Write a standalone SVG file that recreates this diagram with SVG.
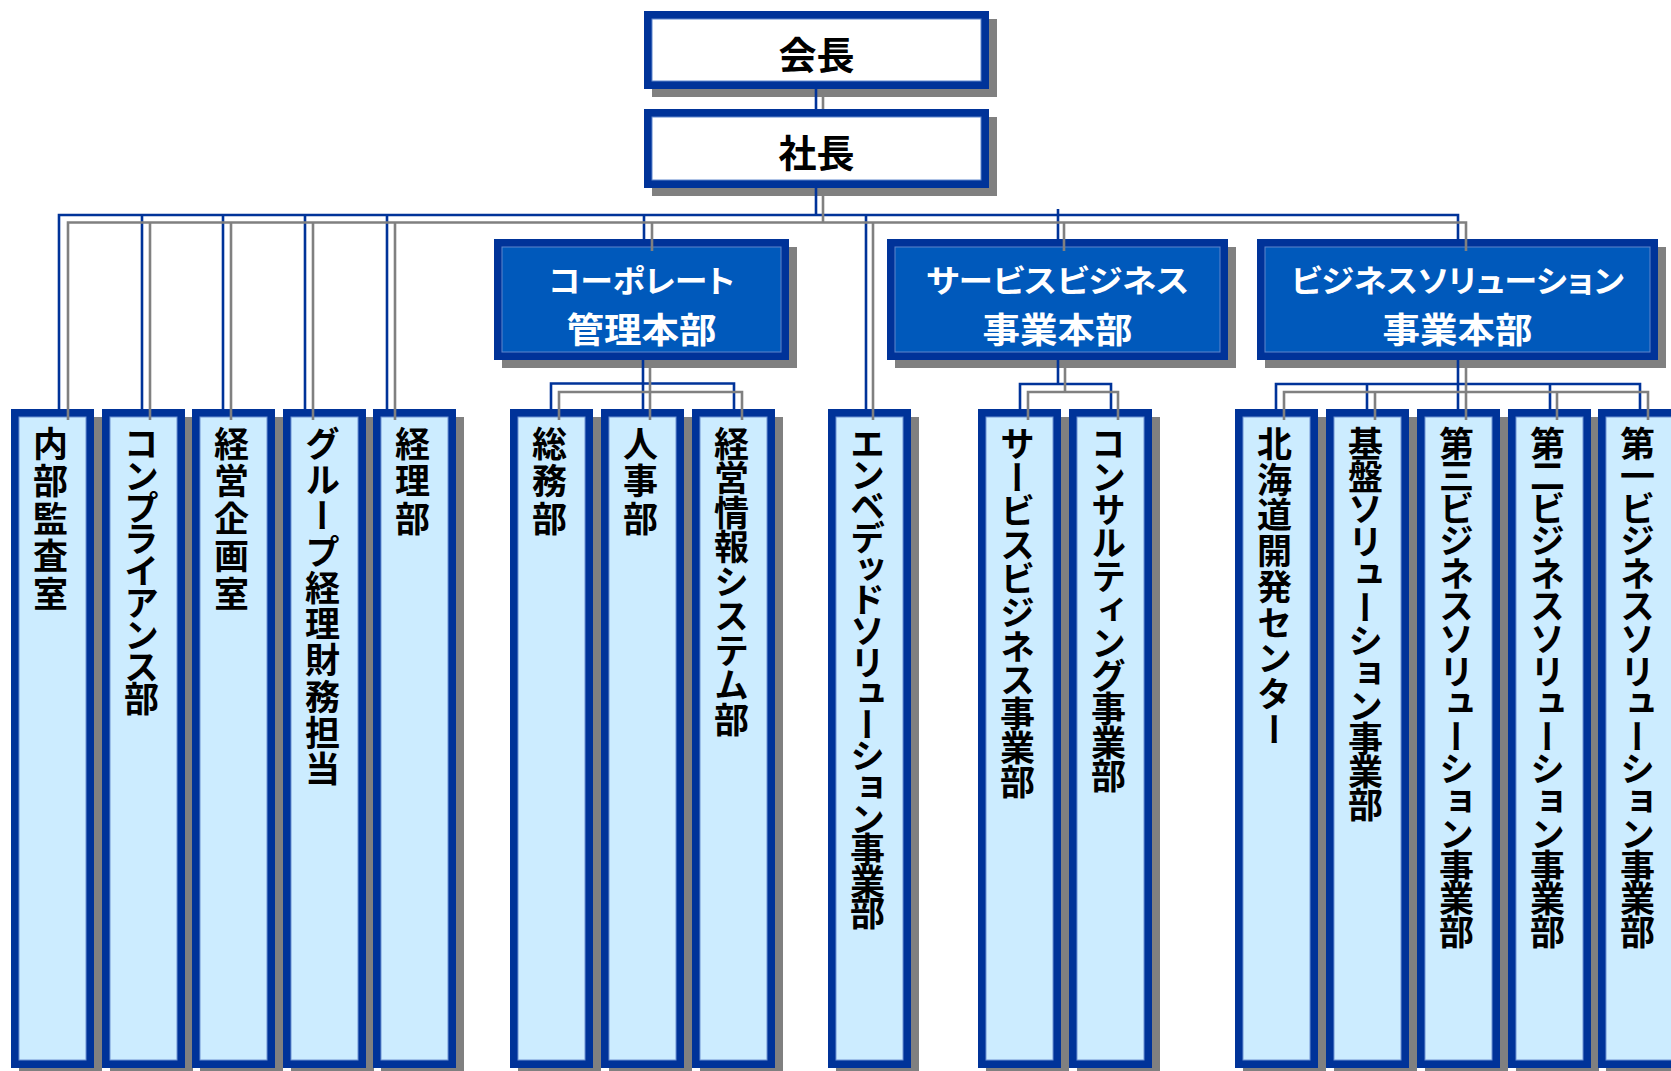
<svg xmlns="http://www.w3.org/2000/svg" width="1671" height="1071" viewBox="0 0 1671 1071">
<style>
.bg{fill:#FFFFFF}
.sh{fill:#808080}
.bd{fill:#003399}
.wt{fill:#FFFFFF;stroke:#5F86CC;stroke-width:1}
.dv{fill:#0059BB;stroke:#5F86CC;stroke-width:1}
.lf{fill:#CCECFF;stroke:#6F93D3;stroke-width:1}
.t{font-family:"Noto Sans CJK JP","Noto Sans CJK SC",sans-serif;font-weight:700}
.tt{font-size:38px;fill:#000000;text-anchor:middle;dominant-baseline:central}
.dt{fill:#FFFFFF;text-anchor:middle;dominant-baseline:central;font-feature-settings:"palt"}
.d1{font-size:31px}
.d2{font-size:35px}
.vt{font-size:35px;fill:#000000;writing-mode:vertical-rl}
.cb{stroke:#003399;stroke-width:2.6;fill:none}
.cg{stroke:#808080;stroke-width:2.6;fill:none}
</style>
<rect class="bg" x="0" y="0" width="1671" height="1071"/>

<g id="nodes">
<g id="kaicho">
<rect class="sh" x="652" y="19" width="345" height="78"/>
<rect class="bd" x="644" y="11" width="345" height="78"/>
<rect class="wt" x="652" y="19" width="329" height="62"/>
<text class="t tt" x="816.5" y="52.5">会長</text>
</g>
<g id="shacho">
<rect class="sh" x="652" y="117" width="345" height="79"/>
<rect class="bd" x="644" y="109" width="345" height="79"/>
<rect class="wt" x="652" y="117" width="329" height="63"/>
<text class="t tt" x="816.5" y="150.5">社長</text>
</g>

<g id="corporate">
<rect class="sh" x="502" y="247" width="295" height="121"/>
<rect class="bd" x="494" y="239" width="295" height="121"/>
<rect class="dv" x="502" y="247" width="279" height="105"/>
<text class="t dt d1" x="641.5" y="278" textLength="186" lengthAdjust="spacingAndGlyphs">コーポレート</text>
<text class="t dt d2" x="641.5" y="327" textLength="150" lengthAdjust="spacingAndGlyphs">管理本部</text>
</g>
<g id="service">
<rect class="sh" x="895" y="247" width="341" height="121"/>
<rect class="bd" x="887" y="239" width="341" height="121"/>
<rect class="dv" x="895" y="247" width="325" height="105"/>
<text class="t dt d1" x="1057.5" y="278" textLength="263" lengthAdjust="spacingAndGlyphs">サービスビジネス</text>
<text class="t dt d2" x="1057.5" y="327" textLength="150" lengthAdjust="spacingAndGlyphs">事業本部</text>
</g>
<g id="bizsol">
<rect class="sh" x="1265" y="247" width="401" height="121"/>
<rect class="bd" x="1257" y="239" width="401" height="121"/>
<rect class="dv" x="1265" y="247" width="385" height="105"/>
<text class="t dt d1" x="1457.5" y="278" textLength="333" lengthAdjust="spacingAndGlyphs">ビジネスソリューション</text>
<text class="t dt d2" x="1457.5" y="327" textLength="150" lengthAdjust="spacingAndGlyphs">事業本部</text>
</g>

<g id="naibu">
<rect class="sh" x="19" y="417" width="83" height="660"/>
<rect class="bd" x="11" y="409" width="83" height="659"/>
<rect class="lf" x="19" y="417" width="67" height="643"/>
<text class="t vt" x="50.5" y="426" textLength="185" lengthAdjust="spacing">内部監査室</text>
</g>
<g id="compliance">
<rect class="sh" x="110" y="417" width="83" height="660"/>
<rect class="bd" x="102" y="409" width="83" height="659"/>
<rect class="lf" x="110" y="417" width="67" height="643"/>
<text class="t vt" x="141.5" y="426" textLength="290" lengthAdjust="spacing">コンプライアンス部</text>
</g>
<g id="keieikikaku">
<rect class="sh" x="200" y="417" width="83" height="660"/>
<rect class="bd" x="192" y="409" width="83" height="659"/>
<rect class="lf" x="200" y="417" width="67" height="643"/>
<text class="t vt" x="231.5" y="426" textLength="185" lengthAdjust="spacing">経営企画室</text>
</g>
<g id="groupkeiri">
<rect class="sh" x="291" y="417" width="83" height="660"/>
<rect class="bd" x="283" y="409" width="83" height="659"/>
<rect class="lf" x="291" y="417" width="67" height="643"/>
<text class="t vt" x="322.5" y="426" textLength="360" lengthAdjust="spacing">グループ経理財務担当</text>
</g>
<g id="keiri">
<rect class="sh" x="381" y="417" width="83" height="660"/>
<rect class="bd" x="373" y="409" width="83" height="659"/>
<rect class="lf" x="381" y="417" width="67" height="643"/>
<text class="t vt" x="412.5" y="426" textLength="110" lengthAdjust="spacing">経理部</text>
</g>
<g id="somu">
<rect class="sh" x="518" y="417" width="83" height="660"/>
<rect class="bd" x="510" y="409" width="83" height="659"/>
<rect class="lf" x="518" y="417" width="67" height="643"/>
<text class="t vt" x="549.5" y="426" textLength="110" lengthAdjust="spacing">総務部</text>
</g>
<g id="jinji">
<rect class="sh" x="609" y="417" width="83" height="660"/>
<rect class="bd" x="601" y="409" width="83" height="659"/>
<rect class="lf" x="609" y="417" width="67" height="643"/>
<text class="t vt" x="640.5" y="426" textLength="110" lengthAdjust="spacing">人事部</text>
</g>
<g id="joho">
<rect class="sh" x="700" y="417" width="83" height="660"/>
<rect class="bd" x="692" y="409" width="83" height="659"/>
<rect class="lf" x="700" y="417" width="67" height="643"/>
<text class="t vt" x="731.5" y="426" textLength="311" lengthAdjust="spacing">経営情報システム部</text>
</g>
<g id="embedded">
<rect class="sh" x="836" y="417" width="83" height="660"/>
<rect class="bd" x="828" y="409" width="83" height="659"/>
<rect class="lf" x="836" y="417" width="67" height="643"/>
<text class="t vt" x="867.5" y="426" textLength="504" lengthAdjust="spacing">エンベデッドソリューション事業部</text>
</g>
<g id="servicebiz">
<rect class="sh" x="986" y="417" width="83" height="660"/>
<rect class="bd" x="978" y="409" width="83" height="659"/>
<rect class="lf" x="986" y="417" width="67" height="643"/>
<text class="t vt" x="1017.5" y="426" textLength="373" lengthAdjust="spacing">サービスビジネス事業部</text>
</g>
<g id="consulting">
<rect class="sh" x="1077" y="417" width="83" height="660"/>
<rect class="bd" x="1069" y="409" width="83" height="659"/>
<rect class="lf" x="1077" y="417" width="67" height="643"/>
<text class="t vt" x="1108.5" y="426" textLength="367" lengthAdjust="spacing">コンサルティング事業部</text>
</g>
<g id="hokkaido">
<rect class="sh" x="1243" y="417" width="83" height="660"/>
<rect class="bd" x="1235" y="409" width="83" height="659"/>
<rect class="lf" x="1243" y="417" width="67" height="643"/>
<text class="t vt" x="1274.5" y="426" textLength="321" lengthAdjust="spacing">北海道開発センター</text>
</g>
<g id="kiban">
<rect class="sh" x="1334" y="417" width="83" height="660"/>
<rect class="bd" x="1326" y="409" width="83" height="659"/>
<rect class="lf" x="1334" y="417" width="67" height="643"/>
<text class="t vt" x="1365.5" y="426" textLength="396" lengthAdjust="spacing">基盤ソリューション事業部</text>
</g>
<g id="biz3">
<rect class="sh" x="1425" y="417" width="83" height="660"/>
<rect class="bd" x="1417" y="409" width="83" height="659"/>
<rect class="lf" x="1425" y="417" width="67" height="643"/>
<text class="t vt" x="1456.5" y="426" textLength="523" lengthAdjust="spacing">第三ビジネスソリューション事業部</text>
</g>
<g id="biz2">
<rect class="sh" x="1516" y="417" width="83" height="660"/>
<rect class="bd" x="1508" y="409" width="83" height="659"/>
<rect class="lf" x="1516" y="417" width="67" height="643"/>
<text class="t vt" x="1547.5" y="426" textLength="523" lengthAdjust="spacing">第二ビジネスソリューション事業部</text>
</g>
<g id="biz1">
<rect class="sh" x="1606" y="417" width="83" height="660"/>
<rect class="bd" x="1598" y="409" width="83" height="659"/>
<rect class="lf" x="1606" y="417" width="67" height="643"/>
<text class="t vt" x="1637.5" y="426" textLength="523" lengthAdjust="spacing">第一ビジネスソリューション事業部</text>
</g>
</g>

<g id="connectors">
<path class="cb" d="M816 89V109 M816 188V215 M59 409V215H1458V239 M142 215V409 M223 215V409 M305 215V409 M387 215V409 M644 215V239 M866 215V409 M1058 209V239 M643 360V383.5 M551 409V383.5H734V409 M643 383.5V409 M1058 360V384 M1020 409V384H1111V409 M1458 360V384 M1276 409V384H1640V409 M1367 384V409 M1458 384V409 M1550 384V409"/>
<path class="cg" d="M823 97V109 M823 196V222.5 M68 420V222.5H1466V251 M150 222.5V420 M231 222.5V420 M313 222.5V420 M395 222.5V420 M652 222.5V251 M873 222.5V420 M1064 222.5V251 M650 360V392 M559 420V392H742V420 M650 392V420 M1065 360V392 M1028 420V392H1118V420 M1466 360V392 M1284 420V392H1648V420 M1375 392V420 M1466 392V420 M1557 392V420"/>
</g>
</svg>
